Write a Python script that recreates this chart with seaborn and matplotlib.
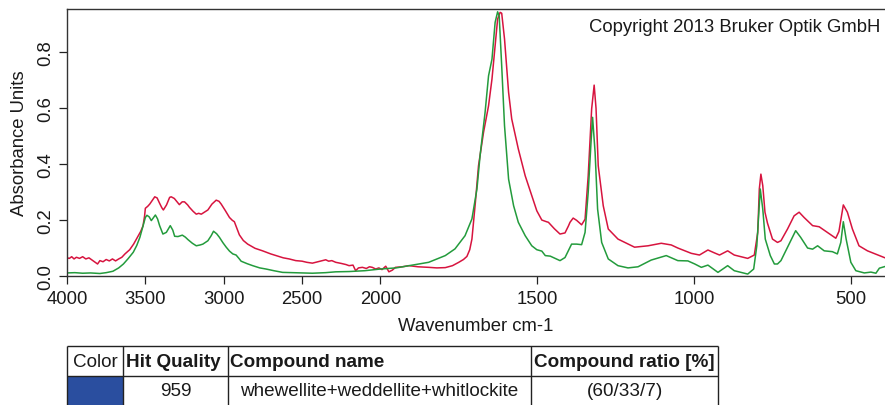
import numpy as np
import pandas as pd
import matplotlib
matplotlib.use("Agg")
import matplotlib.pyplot as plt
from matplotlib.patches import Rectangle
import seaborn as sns

# ---------------- data ----------------
red_wn = [4000, 3985, 3970, 3955, 3940, 3920, 3900, 3880, 3860, 3840, 3820, 3805, 3790, 3770, 3750, 3730,
          3710, 3690, 3670, 3650, 3630, 3600, 3575, 3557, 3530, 3515, 3505, 3500, 3485, 3472, 3455, 3440,
          3425, 3410, 3395, 3385, 3365, 3345, 3335, 3315, 3303, 3283, 3265, 3250, 3230, 3218, 3195, 3175,
          3160, 3143, 3120, 3101, 3075, 3048, 3030, 3016, 2990, 2963, 2945, 2932, 2915, 2900, 2875, 2847,
          2800, 2752, 2700, 2667, 2620, 2582, 2540, 2500, 2470, 2434, 2400, 2370, 2349, 2330, 2310, 2285,
          2250, 2220, 2200, 2175, 2158, 2140, 2115, 2090, 2070, 2052, 2030, 2010, 1995, 1983, 1973, 1962,
          1952, 1930, 1909, 1880, 1846, 1820, 1793, 1770, 1750, 1735, 1724, 1715, 1708, 1697, 1687, 1671,
          1655, 1644, 1634, 1626, 1618, 1613, 1604, 1591, 1581, 1560, 1538, 1517, 1501, 1485, 1470, 1464,
          1445, 1427, 1411, 1400, 1395, 1385, 1374, 1358, 1347, 1337, 1326, 1318, 1312, 1305, 1289, 1273,
          1242, 1189, 1146, 1104, 1072, 1051, 1008, 982, 955, 935, 918, 892, 871, 828, 807, 796,
          791, 786, 780, 773, 765, 749, 733, 722, 701, 680, 664, 648, 621, 600, 574, 547,
          537, 523, 510, 494, 473, 446, 390]
red_abs = [0.066, 0.064, 0.070, 0.062, 0.068, 0.064, 0.070, 0.062, 0.066, 0.058, 0.050, 0.044, 0.056, 0.052, 0.060, 0.055,
           0.062, 0.055, 0.062, 0.068, 0.080, 0.095, 0.115, 0.133, 0.160, 0.180, 0.215, 0.243, 0.250, 0.258, 0.272, 0.284,
           0.280, 0.262, 0.245, 0.237, 0.255, 0.282, 0.284, 0.278, 0.270, 0.256, 0.266, 0.266, 0.255, 0.246, 0.232, 0.222,
           0.225, 0.222, 0.230, 0.237, 0.258, 0.272, 0.268, 0.258, 0.235, 0.210, 0.200, 0.195, 0.170, 0.148, 0.128, 0.115,
           0.100, 0.091, 0.080, 0.074, 0.066, 0.062, 0.056, 0.054, 0.050, 0.047, 0.052, 0.056, 0.059, 0.054, 0.056, 0.050,
           0.046, 0.042, 0.038, 0.040, 0.020, 0.030, 0.032, 0.028, 0.034, 0.032, 0.026, 0.030, 0.024, 0.036, 0.016, 0.022,
           0.032, 0.034, 0.038, 0.034, 0.032, 0.030, 0.031, 0.038, 0.050, 0.060, 0.071, 0.095, 0.133, 0.264, 0.395, 0.514,
           0.609, 0.705, 0.824, 0.919, 0.943, 0.940, 0.848, 0.657, 0.562, 0.455, 0.359, 0.288, 0.234, 0.201, 0.195, 0.193,
           0.170, 0.151, 0.155, 0.180, 0.193, 0.208, 0.200, 0.184, 0.204, 0.359, 0.598, 0.683, 0.600, 0.395, 0.252, 0.169,
           0.133, 0.104, 0.109, 0.118, 0.112, 0.101, 0.082, 0.076, 0.094, 0.084, 0.076, 0.091, 0.076, 0.064, 0.076, 0.157,
           0.312, 0.365, 0.324, 0.229, 0.190, 0.133, 0.121, 0.127, 0.169, 0.216, 0.229, 0.210, 0.181, 0.177, 0.157, 0.136,
           0.160, 0.255, 0.229, 0.169, 0.109, 0.091, 0.066]

green_wn = [4000, 3950, 3900, 3850, 3790, 3750, 3707, 3670, 3640, 3610, 3577, 3555, 3535, 3515, 3500, 3490,
            3475, 3462, 3450, 3436, 3422, 3409, 3388, 3366, 3341, 3325, 3313, 3292, 3264, 3245, 3228, 3200,
            3175, 3150, 3133, 3101, 3080, 3065, 3045, 3027, 3005, 2984, 2963, 2942, 2921, 2900, 2889, 2850,
            2815, 2770, 2730, 2680, 2624, 2550, 2434, 2350, 2285, 2200, 2100, 2000, 1950, 1899, 1846, 1793,
            1762, 1730, 1708, 1692, 1682, 1666, 1655, 1644, 1634, 1626, 1621, 1613, 1604, 1591, 1575, 1560,
            1538, 1517, 1501, 1485, 1474, 1458, 1427, 1411, 1390, 1374, 1358, 1347, 1337, 1328, 1323, 1315,
            1307, 1294, 1273, 1242, 1210, 1178, 1136, 1088, 1051, 1019, 997, 976, 955, 923, 892, 871,
            828, 809, 799, 788, 780, 772, 756, 743, 733, 722, 701, 675, 659, 637, 621, 605,
            584, 558, 542, 531, 523, 514, 499, 483, 456, 435, 419, 408, 390]
green_abs = [0.012, 0.013, 0.011, 0.012, 0.010, 0.013, 0.018, 0.030, 0.044, 0.063, 0.086, 0.110, 0.139, 0.180, 0.210, 0.218,
             0.212, 0.199, 0.208, 0.219, 0.205, 0.181, 0.151, 0.157, 0.181, 0.165, 0.143, 0.142, 0.147, 0.140, 0.131, 0.118,
             0.109, 0.112, 0.115, 0.127, 0.145, 0.161, 0.152, 0.139, 0.120, 0.104, 0.090, 0.080, 0.076, 0.062, 0.054, 0.045,
             0.038, 0.030, 0.026, 0.020, 0.014, 0.013, 0.011, 0.013, 0.016, 0.017, 0.020, 0.026, 0.030, 0.040, 0.050, 0.074,
             0.098, 0.145, 0.205, 0.312, 0.431, 0.586, 0.716, 0.776, 0.907, 0.945, 0.930, 0.752, 0.538, 0.347, 0.252, 0.193,
             0.145, 0.109, 0.095, 0.090, 0.074, 0.072, 0.056, 0.067, 0.115, 0.115, 0.113, 0.157, 0.300, 0.479, 0.568, 0.443,
             0.240, 0.121, 0.062, 0.038, 0.030, 0.034, 0.058, 0.074, 0.056, 0.055, 0.044, 0.032, 0.040, 0.014, 0.038, 0.020,
             0.008, 0.026, 0.109, 0.312, 0.240, 0.133, 0.074, 0.044, 0.044, 0.056, 0.104, 0.163, 0.139, 0.101, 0.097, 0.109,
             0.091, 0.088, 0.080, 0.121, 0.195, 0.133, 0.050, 0.020, 0.012, 0.015, 0.011, 0.029, 0.035]

x_ticks = [4000, 3500, 3000, 2500, 2000, 1500, 1000, 500]
y_ticks = [0.0, 0.2, 0.4, 0.6, 0.8]

table_header = ["Color", "Hit Quality", "Compound name", "Compound ratio [%]"]
table_row = ["", "959", "whewellite+weddellite+whitlockite", "(60/33/7)"]

RED = "#d7143f"
GREEN = "#239b3c"
BLUE = "#2a4e9f"

# ---------------- style ----------------
sns.set_style("ticks")
plt.rcParams["font.family"] = ["Liberation Sans", "DejaVu Sans"]
FS = 13.3
TFS = 13.6

W, H = 885, 406
fig = plt.figure(figsize=(W / 100, H / 100), dpi=100)

# overlay axes in pixel coordinates for table
ov = fig.add_axes([0, 0, 1, 1])
ov.set_xlim(0, W)
ov.set_ylim(H, 0)
ov.axis("off")
ov.patch.set_visible(False)

ax = fig.add_axes([67 / W, (H - 277.3) / H, (W - 67) / W, (277.3 - 10) / H])

df_red = pd.DataFrame({"wn": red_wn, "A": red_abs})
df_green = pd.DataFrame({"wn": green_wn, "A": green_abs})
sns.lineplot(data=df_red, x="wn", y="A", ax=ax, color=RED, linewidth=1.1, estimator=None)
sns.lineplot(data=df_green, x="wn", y="A", ax=ax, color=GREEN, linewidth=1.1, estimator=None)


def fwd(x):
    x = np.asarray(x, dtype=float)
    return np.where(x >= 2000, x, 2000 + 2 * (x - 2000))


def inv(y):
    y = np.asarray(y, dtype=float)
    return np.where(y >= 2000, y, 2000 + (y - 2000) / 2)


ax.set_xscale("function", functions=(fwd, inv))
ax.set_xlim(4000, 390)
ax.set_ylim(0, 0.955)
ax.set_xticks(x_ticks)
ax.set_xticklabels([str(t) for t in x_ticks])
ax.set_yticks(y_ticks)
ax.set_yticklabels([f"{t:.1f}" for t in y_ticks])
ax.minorticks_off()
ax.tick_params(axis="both", direction="out", length=6, width=0.9, color="#222222",
               labelsize=FS, labelcolor="#1a1a1a")
ax.tick_params(axis="y", labelrotation=90, pad=3)
for lab in ax.get_yticklabels():
    lab.set_va("center")
ax.tick_params(axis="x", pad=4)

for side in ["left", "bottom", "top"]:
    ax.spines[side].set_visible(True)
    ax.spines[side].set_color("#333333")
    ax.spines[side].set_linewidth(1.0)
ax.spines["right"].set_visible(False)

ax.set_xlabel("Wavenumber cm-1", fontsize=FS, color="#1a1a1a", labelpad=7)
ax.set_ylabel("Absorbance Units", fontsize=FS, color="#1a1a1a", labelpad=7)

fig.text(880 / W, 1 - 27 / H, "Copyright 2013 Bruker Optik GmbH", ha="right", va="center",
         fontsize=FS, color="#1a1a1a")

# ---------------- table ----------------
col_edges = [67, 123, 228, 531, 718]
row_edges = [347, 377, 408]
ov.add_patch(Rectangle((col_edges[0], row_edges[1]), col_edges[1] - col_edges[0],
                       row_edges[2] - row_edges[1], facecolor=BLUE, edgecolor="none"))
lc = "#222222"
for yv in row_edges:
    ov.plot([col_edges[0], col_edges[-1]], [yv, yv], color=lc, lw=1.0, solid_capstyle="butt")
for xv in col_edges:
    ov.plot([xv, xv], [row_edges[0], row_edges[-1]], color=lc, lw=1.0, solid_capstyle="butt")

hy = (row_edges[0] + row_edges[1]) / 2 + 0.5
ov.text((col_edges[0] + col_edges[1]) / 2, hy, table_header[0], ha="center", va="center",
        fontsize=TFS, color="#1a1a1a")
for i in range(1, 4):
    ov.text(col_edges[i] + 2.5, hy, table_header[i], ha="left", va="center",
            fontsize=TFS, fontweight="bold", color="#1a1a1a")
ry = (row_edges[1] + row_edges[2]) / 2 - 0.5
for i in range(1, 4):
    ov.text((col_edges[i] + col_edges[i + 1]) / 2, ry, table_row[i], ha="center", va="center",
            fontsize=TFS, color="#1a1a1a")

fig.savefig("out.png", dpi=100)
